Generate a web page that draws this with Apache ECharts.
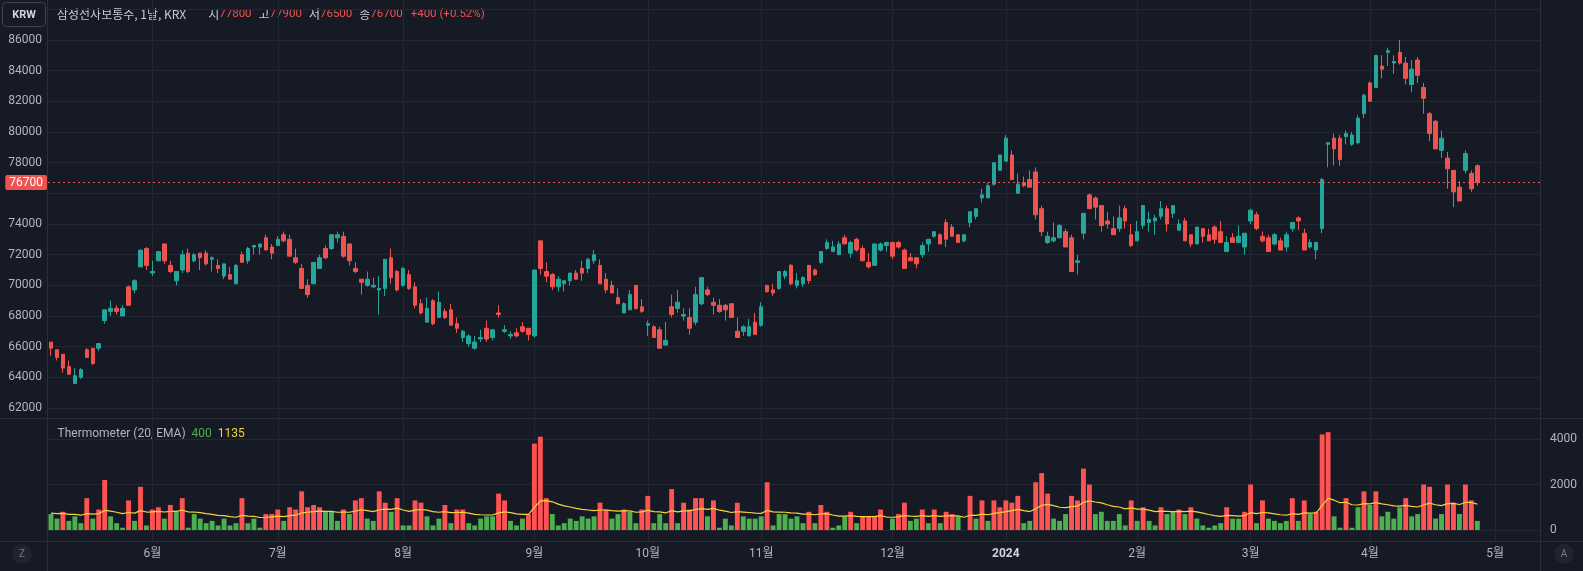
<!DOCTYPE html>
<html>
<head>
<meta charset="utf-8">
<title>삼성전자보통주, 1날, KRX</title>
<script src="https://cdn.jsdelivr.net/npm/echarts@6/dist/echarts.min.js"></script>
<style>
  html, body { margin: 0; padding: 0; background: #161a25; }
  #chart { width: 1583px; height: 571px; }
</style>
</head>
<body>
<div id="chart"></div>
<script>
// KRX sessions, May 2023 - Apr 2024 (last ten are empty future sessions)
const tradingMonths = ['2023-05', '2023-06', '2023-07', '2023-08', '2023-09', '2023-10', '2023-11',
  '2023-12', '2024-01', '2024-02', '2024-03', '2024-04', '2024-05'];
const tradingDays = [
  [8, 9, 10, 11, 12, 15, 16, 17, 18, 19, 22, 23, 24, 25, 26, 30, 31],
  [1, 2, 5, 7, 8, 9, 12, 13, 14, 15, 16, 19, 20, 21, 22, 23, 26, 27, 28, 29, 30],
  [3, 4, 5, 6, 7, 10, 11, 12, 13, 14, 17, 18, 19, 20, 21, 24, 25, 26, 27, 28, 31],
  [1, 2, 3, 4, 7, 8, 9, 10, 11, 14, 16, 17, 18, 21, 22, 23, 24, 25, 28, 29, 30, 31],
  [1, 4, 5, 6, 7, 8, 11, 12, 13, 14, 15, 18, 19, 20, 21, 22, 25, 26, 27],
  [4, 5, 6, 10, 11, 12, 13, 16, 17, 18, 19, 20, 23, 24, 25, 26, 27, 30, 31],
  [1, 2, 3, 6, 7, 8, 9, 10, 13, 14, 15, 16, 17, 20, 21, 22, 23, 24, 27, 28, 29, 30],
  [1, 4, 5, 6, 7, 8, 11, 12, 13, 14, 15, 18, 19, 20, 21, 22, 26, 27, 28],
  [2, 3, 4, 5, 8, 9, 10, 11, 12, 15, 16, 17, 18, 19, 22, 23, 24, 25, 26, 29, 30, 31],
  [1, 2, 5, 6, 7, 8, 13, 14, 15, 16, 19, 20, 21, 22, 23, 26, 27, 28, 29],
  [4, 5, 6, 7, 8, 11, 12, 13, 14, 15, 18, 19, 20, 21, 22, 25, 26, 27, 28, 29],
  [1, 2, 3, 4, 5, 8, 9, 11, 12, 15, 16, 17, 18, 19, 22, 23, 24, 25, 26, 29, 30],
  [2, 3, 7, 8, 9, 10, 13, 14]
];

const openPrice = [
  66300, 65800, 65500, 64700, 63600, 64000, 65800, 65900, 65900, 67700,
  68300, 68500, 68000, 69900, 69700, 71200, 72400, 70800, 71600, 72700,
  71300, 70300, 71000, 72100, 71600, 72100, 72100, 71700, 71300, 70600,
  70700, 70100, 72000, 71600, 72500, 72500, 73100, 72500, 72600, 73300,
  73000, 71800, 71100, 70000, 70100, 71100, 72400, 72400, 73100, 73200,
  72700, 71100, 70400, 70000, 69900, 69700, 69800, 71800, 70900, 70000,
  70700, 69900, 68800, 67600, 69000, 67900, 68300, 68400, 67500, 66600,
  66200, 65900, 66500, 67200, 66600, 68200, 67000, 66700, 66900, 67300,
  67200, 66700, 72900, 70900, 70700, 69900, 70100, 70300, 70800, 71100,
  71100, 71600, 71300, 70400, 70000, 69200, 68200, 68400, 70000, 68600,
  67400, 67300, 67100, 66100, 68600, 68500, 68000, 67900, 67600, 68800,
  69700, 68900, 68700, 68700, 68800, 67000, 67000, 66700, 67600, 67400,
  70000, 69700, 69800, 70600, 71300, 70000, 70100, 71300, 71000, 71500,
  72400, 72200, 72000, 73100, 72100, 73000, 72400, 71500, 71300, 72300,
  72600, 72800, 72800, 72300, 71800, 71800, 72000, 72700, 73200, 73300,
  74100, 73800, 73300, 72900, 74100, 74500, 75700, 75700, 76600, 77500,
  78100, 78500, 76000, 76700, 76900, 77400, 75000, 72800, 72900, 73100,
  73500, 73100, 71500, 73400, 75900, 75700, 75200, 74200, 73700, 73700,
  75000, 73300, 72900, 73900, 74100, 74200, 74500, 75000, 74700, 73600,
  74200, 73300, 72700, 73700, 73300, 73800, 73500, 72200, 73100, 72800,
  72500, 74200, 74600, 73200, 73100, 72700, 72900, 72500, 73700, 74400,
  73400, 72500, 72300, 73700, 79200, 79600, 79600, 79700, 79200, 79300,
  81200, 83200, 82900, 84300, 85200, 84500, 85200, 84500, 83100, 84700,
  82900, 81200, 80700, 78800, 78300, 77500, 76400, 77500, 77300, 77800
];
const closePrice = [
  65900, 65300, 64600, 64200, 64100, 64500, 65300, 64900, 66200, 68400,
  68500, 68300, 68500, 68700, 70300, 72300, 71300, 70900, 72200, 71600,
  70900, 70900, 72000, 70900, 72000, 71800, 71400, 71800, 71100, 71400,
  70400, 71300, 71500, 72400, 72600, 72700, 72300, 72100, 73000, 72900,
  71900, 71500, 69800, 69400, 71500, 71800, 71800, 73300, 73300, 71900,
  71600, 70900, 70200, 70400, 70000, 69800, 71700, 70500, 69700, 71100,
  69800, 68700, 68200, 68500, 67500, 68900, 67900, 67400, 67200, 67000,
  66700, 66300, 66600, 66500, 67100, 68100, 67100, 66800, 66700, 67000,
  66800, 71000, 71100, 70600, 69900, 70400, 70300, 70800, 70400, 70800,
  71700, 72000, 70100, 69700, 69500, 68800, 68800, 69400, 68500, 68300,
  67500, 66600, 65900, 66400, 68100, 68900, 68100, 67200, 69400, 70500,
  69400, 68700, 68300, 68400, 67900, 66600, 67300, 67300, 66800, 68600,
  69600, 69500, 70900, 70900, 70100, 70300, 70500, 70300, 70700, 72200,
  72800, 72500, 72700, 72700, 72800, 72300, 71600, 71200, 72700, 72700,
  72800, 71900, 72500, 71100, 71600, 71400, 72600, 73000, 73500, 72700,
  73000, 73200, 72800, 73300, 74800, 75000, 75900, 76500, 78000, 78500,
  79600, 76900, 76600, 76500, 76400, 74600, 73500, 73200, 73100, 73900,
  72500, 70900, 71600, 74700, 75000, 75100, 73900, 74000, 73300, 74400,
  74200, 72600, 73500, 75200, 74300, 74400, 75000, 74000, 75200, 74000,
  72900, 72700, 73800, 73200, 72900, 73000, 72800, 72800, 72800, 73200,
  73400, 74900, 73700, 72900, 72200, 73300, 72300, 73300, 74100, 74200,
  72300, 72800, 72800, 76900, 79300, 78900, 78200, 79900, 79800, 80900,
  82400, 82000, 85000, 84100, 85300, 84600, 84500, 83500, 84100, 83700,
  82200, 79900, 78900, 79600, 77600, 76100, 75500, 78600, 76300, 76700
];
const lowPrice = [
  65400, 65100, 64300, 64200, 63600, 63900, 65300, 64800, 65700, 67500,
  68000, 68100, 68000, 68700, 69500, 71200, 71000, 70600, 71600, 71400,
  70800, 70000, 70800, 70800, 71500, 71000, 71300, 70900, 70800, 70400,
  70400, 70100, 71500, 71400, 72000, 72000, 72300, 71700, 72600, 72800,
  71900, 71400, 69800, 69200, 70100, 71100, 71700, 72300, 72800, 71800,
  71300, 70800, 69400, 69900, 69800, 68100, 69300, 70100, 69600, 69900,
  69700, 68500, 68100, 67600, 67400, 67900, 67800, 67400, 66900, 66300,
  66000, 65800, 66300, 66300, 66400, 67900, 66900, 66500, 66600, 66900,
  66400, 66600, 70700, 70200, 69700, 69600, 69600, 70000, 70400, 70300,
  70800, 71400, 70100, 69500, 69500, 68800, 68200, 68400, 68400, 68200,
  66700, 66600, 65900, 66100, 67900, 68200, 67700, 66800, 67400, 68700,
  69300, 68100, 68200, 67700, 67900, 66600, 66700, 66700, 66800, 67300,
  69500, 69300, 69700, 70400, 70000, 69800, 69900, 70100, 70600, 71400,
  72300, 72200, 72000, 72700, 71800, 72200, 71600, 71100, 71300, 72200,
  72200, 71700, 72400, 71100, 71600, 71100, 71800, 72200, 73100, 72700,
  72500, 73200, 72800, 72800, 73800, 74300, 75400, 75700, 76500, 77500,
  78100, 76900, 76000, 76400, 76400, 74300, 73200, 72700, 72800, 73100,
  72500, 70900, 70700, 73000, 75000, 74300, 73500, 73700, 73300, 73500,
  73700, 72500, 72900, 73700, 73500, 73300, 74300, 73500, 74400, 73600,
  72900, 72500, 72700, 72800, 72900, 72700, 72800, 72200, 72800, 72800,
  72000, 74000, 73600, 72800, 72200, 72600, 72300, 72200, 73500, 73600,
  72300, 72400, 71700, 73400, 77700, 77800, 77800, 79200, 79100, 79200,
  80900, 82000, 82900, 83500, 84300, 83800, 84400, 83100, 82600, 83200,
  81200, 79400, 78900, 78300, 76300, 75100, 75500, 77300, 76100, 76500
];
const highPrice = [
  66300, 65800, 65500, 65100, 64600, 64600, 65900, 65900, 66200, 68400,
  69000, 68700, 68700, 70000, 70400, 72300, 72500, 71600, 72200, 72700,
  71600, 70900, 72300, 72400, 72100, 72100, 72300, 71900, 71700, 71400,
  71200, 71400, 72200, 72500, 72600, 72700, 73300, 72700, 73200, 73500,
  73300, 72400, 71400, 70400, 71500, 72000, 72600, 73300, 73500, 73500,
  72700, 71500, 70400, 70900, 70500, 70600, 71700, 72400, 71000, 71200,
  71000, 70200, 69100, 69200, 69100, 69600, 68500, 68800, 67900, 67100,
  66800, 66700, 67100, 67700, 67100, 68700, 67400, 67000, 67200, 67600,
  67200, 71000, 72900, 71500, 70800, 70600, 70300, 70800, 71000, 71600,
  71800, 72300, 71700, 70800, 70300, 69800, 68900, 69700, 70000, 69100,
  67700, 67400, 67300, 67600, 69400, 69700, 68500, 68500, 69900, 70500,
  69900, 69200, 69100, 68800, 68800, 67900, 67400, 67800, 68200, 68900,
  70000, 70100, 70900, 71000, 71400, 70800, 70600, 71300, 71100, 72200,
  73000, 72900, 72900, 73300, 72900, 73100, 72600, 72100, 72700, 72800,
  72800, 72800, 72900, 72400, 72100, 71800, 72800, 73000, 73500, 73400,
  74300, 74000, 73300, 73300, 74800, 75000, 76300, 76700, 78000, 78500,
  79800, 78800, 77300, 77100, 77500, 77700, 75200, 73500, 74100, 74000,
  73700, 73300, 72000, 74700, 76000, 75800, 75200, 74800, 74500, 75200,
  75200, 74000, 74200, 75200, 74800, 74600, 75500, 75200, 75200, 74300,
  74400, 73300, 73800, 73700, 73700, 73900, 74200, 73200, 73400, 73900,
  73400, 75000, 74800, 73500, 73300, 73400, 73100, 73500, 74100, 74500,
  73700, 73000, 72800, 77000, 79300, 79900, 79800, 80100, 80000, 81100,
  82500, 83300, 85000, 85000, 85500, 85000, 86000, 84900, 84700, 84900,
  83200, 81300, 80800, 80100, 78700, 77500, 76800, 78800, 77500, 77900
];

// Thermometer (20, EMA) pane
const thermoValues = [
  700, 500, 800, 400, 600, 300, 1400, 500, 900, 2200,
  600, 300, 100, 1300, 400, 1900, 200, 900, 1000, 500,
  1100, 800, 1400, 100, 700, 500, 300, 400, 200, 500,
  200, 300, 1400, 300, 500, 100, 700, 700, 900, 400,
  1000, 900, 1700, 1000, 1100, 1000, 800, 800, 400, 900,
  700, 1300, 1400, 500, 400, 1700, 1200, 800, 1400, 200,
  200, 1300, 1200, 600, 200, 500, 1100, 300, 900, 900,
  300, 200, 500, 600, 600, 1600, 1300, 400, 200, 500,
  700, 3800, 4100, 1400, 700, 200, 300, 500, 400, 600,
  500, 600, 1200, 900, 500, 700, 900, 800, 300, 900,
  1500, 300, 700, 300, 1800, 300, 1200, 900, 1400, 1400,
  600, 1300, 100, 500, 200, 1200, 600, 500, 500, 600,
  2100, 200, 700, 700, 500, 600, 300, 800, 300, 1100,
  800, 100, 200, 600, 800, 300, 600, 600, 600, 900,
  0, 500, 700, 1200, 400, 500, 900, 300, 900, 300,
  800, 700, 600, 0, 1500, 500, 1300, 400, 1300, 1000,
  1300, 1200, 1500, 300, 400, 2100, 2500, 1600, 500, 400,
  700, 1500, 1300, 2700, 2000, 700, 800, 400, 400, 700,
  200, 1300, 400, 1000, 400, 200, 1000, 700, 800, 900,
  700, 1000, 500, 200, 100, 200, 300, 1000, 500, 500,
  800, 2000, 300, 1300, 500, 400, 300, 400, 1400, 400,
  1300, 700, 800, 4200, 4300, 600, 100, 1400, 100, 1000,
  1700, 1100, 1700, 600, 800, 500, 1000, 1400, 600, 700,
  2000, 1900, 500, 700, 2000, 1200, 700, 2000, 1300, 400
];
// r = hotter than its EMA (red), g = green
const thermoHot = (
  'ggrgggrgrr' + 'gggrgrgrrg' + 'rgrggggggg' + 'ggrgggrrrg' + 'rrrrrrgggr' +
  'grrggrrgrg' + 'grrgggrgrr' + 'gggggrrggg' + 'rrrrgggggg' + 'ggrrggrggr' +
  'rgggrgrrrr' + 'grgggrgggg' + 'rggggggrgr' + 'rgggrgrrrr' + 'ggrrggrgrg' +
  'rrggrgrgrr' + 'rrrggrrrgg' + 'grrrrggggg' + 'grgrggrggr' + 'grgggggrgg' +
  'rrgrggggrg' + 'rgrrrggrgg' + 'rgrggggrgg' + 'rrggrrgrrg'
).split('');
const thermoEma = [
  740, 720, 730, 690, 690, 650, 720, 700, 720, 860,
  830, 780, 720, 770, 740, 850, 790, 800, 820, 790,
  820, 820, 870, 800, 790, 760, 720, 690, 640, 630,
  590, 560, 640, 610, 600, 550, 560, 580, 610, 590,
  630, 650, 750, 780, 810, 830, 820, 820, 780, 790,
  780, 830, 890, 850, 810, 890, 920, 910, 960, 880,
  820, 870, 900, 870, 810, 780, 810, 760, 770, 780,
  740, 690, 670, 660, 660, 750, 800, 760, 710, 690,
  690, 990, 1280, 1290, 1240, 1140, 1060, 1010, 950, 910,
  880, 850, 880, 880, 850, 830, 840, 840, 780, 800,
  860, 810, 800, 750, 850, 800, 840, 840, 900, 940,
  910, 950, 870, 830, 770, 810, 790, 770, 740, 730,
  860, 800, 790, 780, 750, 740, 700, 700, 670, 710,
  720, 660, 610, 610, 630, 600, 590, 590, 590, 630,
  570, 560, 580, 630, 610, 600, 630, 600, 630, 600,
  620, 620, 620, 560, 650, 640, 700, 670, 730, 760,
  810, 850, 910, 850, 810, 930, 1080, 1130, 1070, 1000,
  980, 1030, 1050, 1210, 1280, 1230, 1190, 1110, 1040, 1010,
  930, 970, 920, 920, 870, 810, 830, 820, 810, 820,
  810, 830, 800, 740, 680, 630, 600, 640, 630, 610,
  630, 760, 720, 770, 750, 710, 670, 650, 720, 690,
  750, 740, 750, 1080, 1390, 1310, 1200, 1220, 1110, 1100,
  1160, 1150, 1200, 1150, 1110, 1060, 1050, 1080, 1040, 1010,
  1100, 1180, 1110, 1070, 1160, 1170, 1120, 1210, 1210, 1135
];

const priceTicks = { min: 62000, max: 88000, step: 2000 };
const thermoTicks = { min: 0, max: 4000, step: 2000 };

const dates = [];
tradingMonths.forEach((m, k) => {
  tradingDays[k].forEach(d => dates.push(m + '-' + String(d).padStart(2, '0')));
});

const candles = openPrice.map((o, i) => [o, closePrice[i], lowPrice[i], highPrice[i]]);
const last = openPrice.length - 1;
const change = closePrice[last] - closePrice[last - 1];
const changePct = (change / closePrice[last - 1] * 100).toFixed(2);
const sign = change >= 0 ? '+' : '';

const UP = '#26a69a';
const DOWN = '#ef5350';
const HOT = '#ff5252';
const COLD = '#4caf50';
const TEXT = '#b2b5be';
const GRIDLINE = '#232733';
const BORDER = '#2a2e39';
const FONT = 'Roboto, "Noto Sans CJK KR", sans-serif';
const CJK = '"Noto Sans CJK KR", Roboto, sans-serif';

const isMonthStart = i => i > 0 && dates[i].slice(0, 7) !== dates[i - 1].slice(0, 7);
const monthLabel = i => {
  const [y, m] = dates[i].split('-');
  return m === '01' ? '{y|' + y + '}' : Number(m) + '월';
};

const chart = echarts.init(document.getElementById('chart'));

const option = {
  backgroundColor: '#161a25',
  animation: false,
  textStyle: { fontFamily: FONT },
  grid: [
    { left: 48, right: 43, top: 9.38, height: 398.6 },
    { left: 48, right: 43, top: 439, height: 91 },
    // time scale shared by both panes, points on bar centres
    { left: 48 + 2.984, right: 43 + 2.984, top: 0, bottom: 30 }
  ],
  xAxis: [
    { type: 'category', gridIndex: 0, data: dates, show: false },
    { type: 'category', gridIndex: 1, data: dates, show: false },
    {
      type: 'category', gridIndex: 2, data: dates, boundaryGap: false,
      axisLine: { show: false }, axisTick: { show: false },
      axisLabel: {
        interval: (i) => isMonthStart(i),
        formatter: (v, i) => monthLabel(i),
        color: TEXT, fontSize: 12, margin: 7, fontFamily: FONT,
        rich: { y: { color: '#d1d4dc', fontWeight: 'bold', fontSize: 12, fontFamily: FONT } }
      },
      splitLine: { show: true, interval: (i) => isMonthStart(i), lineStyle: { color: GRIDLINE } }
    }
  ],
  yAxis: [
    {
      type: 'value', gridIndex: 0, position: 'left',
      min: priceTicks.min, max: priceTicks.max, interval: priceTicks.step,
      axisLine: { show: false }, axisTick: { show: false },
      axisLabel: {
        color: TEXT, fontSize: 12, margin: 6, fontFamily: FONT,
        formatter: v => (v === priceTicks.max || v === 76000) ? '' : String(v)
      },
      splitLine: { lineStyle: { color: GRIDLINE } }
    },
    {
      type: 'value', gridIndex: 1, position: 'right',
      min: thermoTicks.min, max: thermoTicks.max, interval: thermoTicks.step,
      axisLine: { show: false }, axisTick: { show: false },
      axisLabel: { color: TEXT, fontSize: 12, margin: 10, fontFamily: FONT, formatter: v => String(v) },
      splitLine: { lineStyle: { color: GRIDLINE } }
    },
    { type: 'value', gridIndex: 2, show: false }
  ],
  series: [
    {
      type: 'candlestick', xAxisIndex: 0, yAxisIndex: 0,
      data: candles, barWidth: 4,
      itemStyle: { color: UP, color0: DOWN, borderColor: UP, borderColor0: DOWN, borderWidth: 1 },
      markLine: {
        silent: true, symbol: ['none', 'none'],
        data: [{ yAxis: closePrice[last] }],
        lineStyle: { color: DOWN, type: [2, 3], width: 1 },
        label: {
          position: 'start', distance: 1, formatter: String(closePrice[last]),
          color: '#ffffff', fontSize: 12, fontFamily: FONT,
          backgroundColor: DOWN, padding: [2, 4, 1, 4], borderRadius: 2
        }
      }
    },
    {
      type: 'bar', xAxisIndex: 1, yAxisIndex: 1, barWidth: '82%', clip: false,
      data: thermoValues.map((v, i) => ({
        value: v, itemStyle: { color: thermoHot[i] === 'r' ? HOT : COLD }
      }))
    },
    {
      type: 'line', xAxisIndex: 1, yAxisIndex: 1, data: thermoEma,
      symbol: 'none', lineStyle: { color: '#f5d33b', width: 1.2 }, z: 3
    }
  ],
  graphic: [
    // pane borders
    { type: 'line', shape: { x1: 47.5, y1: 0, x2: 47.5, y2: 571 }, style: { stroke: BORDER } },
    { type: 'line', shape: { x1: 1540.5, y1: 0, x2: 1540.5, y2: 571 }, style: { stroke: BORDER } },
    { type: 'line', shape: { x1: 0, y1: 418.5, x2: 1583, y2: 418.5 }, style: { stroke: BORDER } },
    { type: 'line', shape: { x1: 0, y1: 541.5, x2: 1583, y2: 541.5 }, style: { stroke: BORDER } },
    // currency box
    {
      type: 'rect', shape: { x: 2.5, y: 2.5, width: 43, height: 24, r: 4 },
      style: { fill: '#161a25', stroke: '#434651' }
    },
    {
      type: 'text', x: 24, y: 15,
      style: {
        text: 'KRW', fill: '#d1d4dc', font: 'bold 11px ' + FONT,
        align: 'center', verticalAlign: 'middle'
      }
    },
    // symbol legend
    {
      type: 'text', x: 57, y: 14,
      style: {
        text: '{n|삼성전자보통주, 1날, KRX}{k1|시}{v|' + openPrice[last] + '}{k|고}{v|' + highPrice[last] +
          '}{k|저}{v|' + lowPrice[last] + '}{k|종}{v|' + closePrice[last] + '}{c|' +
          sign + change + ' (' + sign + changePct + '%)}',
        verticalAlign: 'middle', font: '12px ' + CJK, fill: TEXT,
        rich: {
          n: { fill: '#c8cad0', font: '12px ' + CJK },
          k1: { fill: '#c8cad0', font: '12px ' + CJK, padding: [0, 0, 0, 22] },
          k: { fill: '#c8cad0', font: '12px ' + CJK, padding: [0, 0, 0, 7] },
          v: { fill: DOWN, font: '11.5px ' + FONT },
          c: { fill: DOWN, font: '11.5px ' + FONT, padding: [0, 0, 0, 8] }
        }
      }
    },
    // indicator legend
    {
      type: 'text', x: 57.5, y: 434,
      style: {
        text: '{n|Thermometer (20, EMA)}  {a|' + thermoValues[last] + '}  {b|' + thermoEma[last] + '}',
        verticalAlign: 'middle', font: '12px ' + FONT,
        rich: {
          n: { fill: TEXT, font: '12px ' + FONT },
          a: { fill: COLD, font: '12px ' + FONT },
          b: { fill: '#f5d33b', font: '12px ' + FONT }
        }
      }
    },
    // corner buttons
    { type: 'circle', shape: { cx: 22, cy: 554, r: 10 }, style: { fill: '#20242f' } },
    {
      type: 'text', x: 22, y: 554,
      style: { text: 'Z', fill: '#787b86', font: '10px ' + FONT, align: 'center', verticalAlign: 'middle' }
    },
    { type: 'circle', shape: { cx: 1564, cy: 554, r: 10 }, style: { fill: '#20242f' } },
    {
      type: 'text', x: 1564, y: 554,
      style: { text: 'A', fill: '#787b86', font: '10px ' + FONT, align: 'center', verticalAlign: 'middle' }
    }
  ]
};

chart.setOption(option);
</script>
</body>
</html>
